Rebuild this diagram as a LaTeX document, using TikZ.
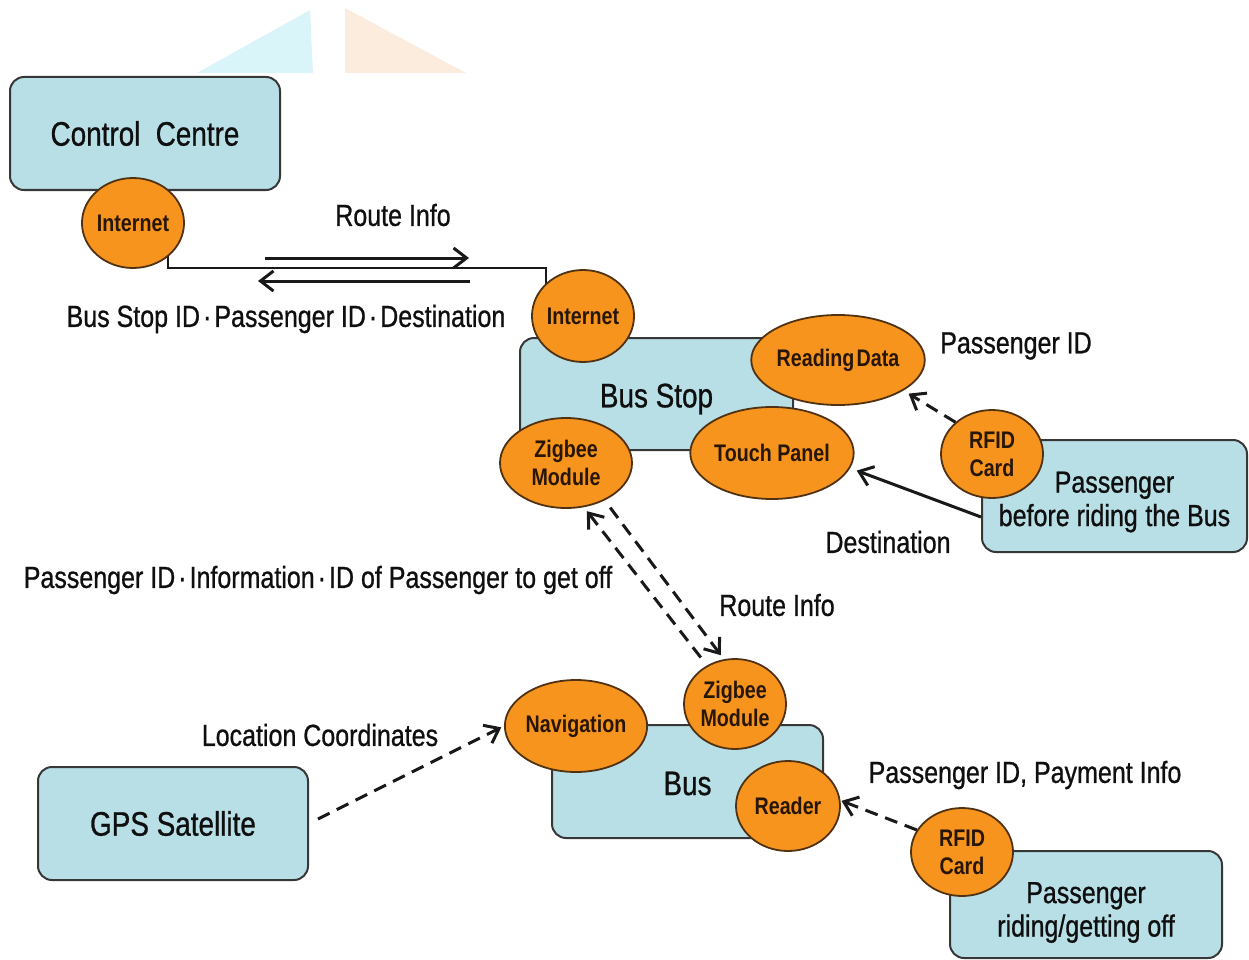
\documentclass[tikz,border=0pt]{standalone}
\usepackage{fontspec}
\setmainfont[FakeStretch=0.82]{Liberation Sans}
\newfontfamily\heavyfont[FakeStretch=0.82,FakeBold=0.8]{Liberation Sans}
\usetikzlibrary{shapes.geometric,arrows.meta}
\definecolor{boxfill}{RGB}{184,222,230}
\definecolor{boxline}{RGB}{55,55,55}
\definecolor{orangefill}{RGB}{247,148,29}
\definecolor{ovalline}{RGB}{80,50,18}
\definecolor{ovaltext}{RGB}{40,22,5}
\definecolor{lbltext}{RGB}{15,15,15}
\definecolor{wmcyan}{RGB}{218,245,250}
\definecolor{wmpeach}{RGB}{252,236,222}
\newcommand\fsBox{\heavyfont\fontsize{34}{38}\selectfont}
\newcommand\fsPass{\heavyfont\fontsize{30.5}{33}\selectfont}
\newcommand\fsLbl{\heavyfont\fontsize{30.5}{34}\selectfont}
\newcommand\fsOval{\bfseries\fontsize{24}{28}\selectfont}
\newcommand\mdot{\kern3pt·\kern3pt}
\newcommand\lowerby[2]{\raisebox{-#1}[\height][\depth]{#2}}
\begin{document}
\begin{tikzpicture}[x=1pt,y=-1pt,
  box/.style={draw=boxline, fill=boxfill, line width=2pt, rounded corners=14pt,
    inner sep=0pt, align=center, font=\fsBox, text=lbltext},
  oval/.style={ellipse, draw=ovalline, fill=orangefill, line width=1.8pt,
    inner sep=0pt, align=center, font=\fsOval, text=ovaltext},
  lbl/.style={inner sep=0pt, font=\fsLbl, text=lbltext},
  conn/.style={line width=3pt, draw=black!90},
  arr/.style={conn, -{Straight Barb[length=13pt,width=20pt,line width=3pt]}},
  darr/.style={arr, dash pattern=on 13pt off 8pt}
]
\useasboundingbox (0,0) rectangle (1249,960);
% faint background triangles
\fill[wmcyan] (197,73) -- (310,10) -- (313,73) -- cycle;
\fill[wmpeach] (345,8) -- (466,73) -- (345,73) -- cycle;

% coordinates for the route line and the two arrows
\coordinate (j1) at (168,268);
\coordinate (j2) at (546,268);
\coordinate (ra1) at (265,258);
\coordinate (ra2) at (469,258);
\coordinate (la1) at (470,281);
\coordinate (la2) at (258,281);

% boxes
\node[box, minimum width=270pt, minimum height=113pt] (cc) at (145,133.5) {Control\hspace{0.45em}Centre};
\node[box, minimum width=273pt, minimum height=112pt] (bs) at (656.5,394) {\lowerby{5pt}{Bus Stop}};
\node[box, minimum width=271pt, minimum height=113pt] (bus) at (687.5,781.5) {\lowerby{2pt}{Bus}};
\node[box, minimum width=270pt, minimum height=113pt] (gps) at (173,823.5) {GPS Satellite};
\node[box, minimum width=265pt, minimum height=112pt, font=\fsPass] (pb) at (1114.5,496)
  {\lowerby{6pt}{\shortstack{Passenger\\[2pt]before riding\hspace{0.25em}the Bus}}};
\node[box, minimum width=272pt, minimum height=107pt, font=\fsPass] (pr) at (1086,904.5)
  {\lowerby{8pt}{\shortstack{Passenger\\[2pt]riding/getting off}}};

% route line between internet modules (behind ovals)
\draw[conn, line width=2.6pt] (j1 |- 0,223) -- (j1) -- (j2) -- (j2 |- 0,316);

% ovals
\node[oval, minimum width=100pt, minimum height=90pt] (cci) at (133,223) {Internet};
\node[oval, minimum width=100pt, minimum height=92pt] (bsi) at (583,316) {Internet};
\node[oval, minimum width=130pt, minimum height=90pt] (rd) at (838,360) {Reading\hspace{0.1em}Data};
\node[oval, minimum width=132pt, minimum height=90pt] (bsz) at (566,463) {Zigbee\\Module};
\node[oval, minimum width=130pt, minimum height=92pt] (tp) at (772,453) {Touch Panel};
\node[oval, minimum width=102pt, minimum height=88pt] (rf1) at (992,454) {RFID\\Card};
\node[oval, minimum width=102pt, minimum height=90pt] (bz) at (735,704) {Zigbee\\Module};
\node[oval, minimum width=126pt, minimum height=92pt] (nav) at (576,726) {Navigation};
\node[oval, minimum width=104pt, minimum height=90pt] (rdr) at (788,806) {Reader};
\node[oval, minimum width=102pt, minimum height=88pt] (rf2) at (962,852) {RFID\\Card};

% arrows
\draw[arr] (ra1) -- (ra2);
\draw[arr] (la1) -- (la2);
\draw[darr, shorten >=6pt] (rf1.139.6) -- (rd.-25);
\draw[arr, shorten >=7pt] ([yshift=-21pt]pb.west) -- (tp.-11.3);
\draw[darr, shorten <=10pt, shorten >=5pt] (bz.126) -- (bsz.-68.8);
\draw[darr, shorten <=9pt, shorten >=5pt] (bsz.-44.4) -- (bz.104.9);
\draw[darr, shorten <=10pt, shorten >=3pt] (gps.east) -- (nav.west);
\draw[darr, shorten >=1pt] (rf2.154.4) -- (rdr.6.5);

% labels
\node[lbl] (l1) at (393,215) {Route Info};
\node[lbl] (l2) at (286,319) {Bus Stop ID\mdot Passenger ID\mdot Destination};
\node[lbl] (l3) at (1016,346) {Passenger ID};
\node[lbl] (l4) at (888,542) {Destination};
\node[lbl] (l5) at (318,580) {Passenger ID\mdot Information\mdot ID of Passenger to get off};
\node[lbl] (l6) at (777,605) {Route Info};
\node[lbl] (l7) at (320,735) {Location Coordinates};
\node[lbl] (l8) at (1025,775) {Passenger ID, Payment Info};
\end{tikzpicture}
\end{document}
